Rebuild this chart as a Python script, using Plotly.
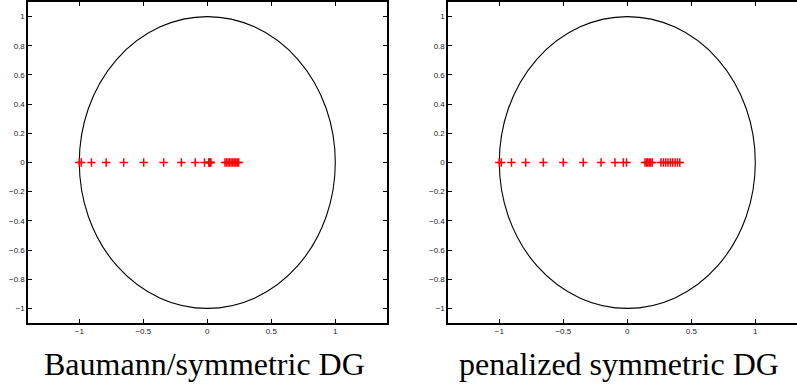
import plotly.graph_objects as go

left_re = [-1.0, -0.985, -0.905, -0.79, -0.653, -0.497, -0.341, -0.203, -0.094, -0.022,
           0.012, 0.016, 0.02, 0.024, 0.028,
           0.138, 0.15, 0.162, 0.174, 0.186, 0.198, 0.21, 0.222, 0.234, 0.245]
left_im = [0.0] * len(left_re)

right_re = [-1.0, -0.985, -0.905, -0.794, -0.656, -0.5, -0.344, -0.205, -0.096, -0.031, -0.006,
            0.138, 0.15, 0.16, 0.172, 0.183, 0.195,
            0.263, 0.282, 0.3, 0.318, 0.337, 0.355, 0.374, 0.392, 0.41]
right_im = [0.0] * len(right_re)

titles = ["Baumann/symmetric DG", "penalized symmetric DG"]
x_ticks = [-1, -0.5, 0, 0.5, 1]
y_ticks = [-1, -0.8, -0.6, -0.4, -0.2, 0, 0.2, 0.4, 0.6, 0.8, 1]

W, H = 797, 387
fig = go.Figure()

marker = dict(symbol="cross-thin", size=6, color="red", line=dict(color="red", width=1.5))
fig.add_trace(go.Scatter(x=left_re, y=left_im, mode="markers", marker=marker,
                         xaxis="x", yaxis="y", showlegend=False))
fig.add_trace(go.Scatter(x=right_re, y=right_im, mode="markers", marker=marker,
                         xaxis="x2", yaxis="y2", showlegend=False))

# unit circles
for xr, yr in (("x", "y"), ("x2", "y2")):
    fig.add_shape(type="circle", xref=xr, yref=yr, x0=-1, y0=-1, x1=1, y1=1,
                  line=dict(color="black", width=1.1), layer="below")

tickfont = dict(family="Liberation Sans, Arial, sans-serif", size=8, color="#222")
ax_common = dict(showgrid=False, zeroline=False, showline=True, linecolor="black",
                 linewidth=1.5, ticks="inside", ticklen=4, tickcolor="black",
                 tickfont=tickfont)

px_per_unit = 128.0
x0_left = 207.3
x0_right = 627.3
fig.update_layout(
    width=W, height=H,
    margin=dict(l=0, r=0, t=0, b=64),
    paper_bgcolor="white", plot_bgcolor="white",
    xaxis=dict(domain=[(x0_left - 1.4 * px_per_unit) / W, (x0_left + 1.4 * px_per_unit) / W],
               range=[-1.4, 1.4], tickvals=x_ticks, mirror="ticks", anchor="y", **ax_common),
    yaxis=dict(domain=[0, 1], range=[-1.1, 1.1], tickvals=y_ticks, mirror="ticks",
               anchor="x", **ax_common),
    xaxis2=dict(domain=[(x0_right - 1.4 * px_per_unit) / W, 1.0],
                range=[-1.4, (W - x0_right) / px_per_unit], tickvals=x_ticks,
                mirror="ticks", anchor="y2", **ax_common),
    yaxis2=dict(domain=[0, 1], range=[-1.1, 1.1], tickvals=y_ticks, mirror=False,
                anchor="x2", **ax_common),
)

for i, (t, xr) in enumerate(zip(titles, ["x", "x2"])):
    fig.add_annotation(text=t, xref=xr, x=-0.02 if i == 0 else -0.065, yref="paper", y=-0.127,
                       xanchor="center", yanchor="middle", showarrow=False,
                       font=dict(family="Liberation Serif, serif", size=32, color="black"))

fig.write_html("out.html")
